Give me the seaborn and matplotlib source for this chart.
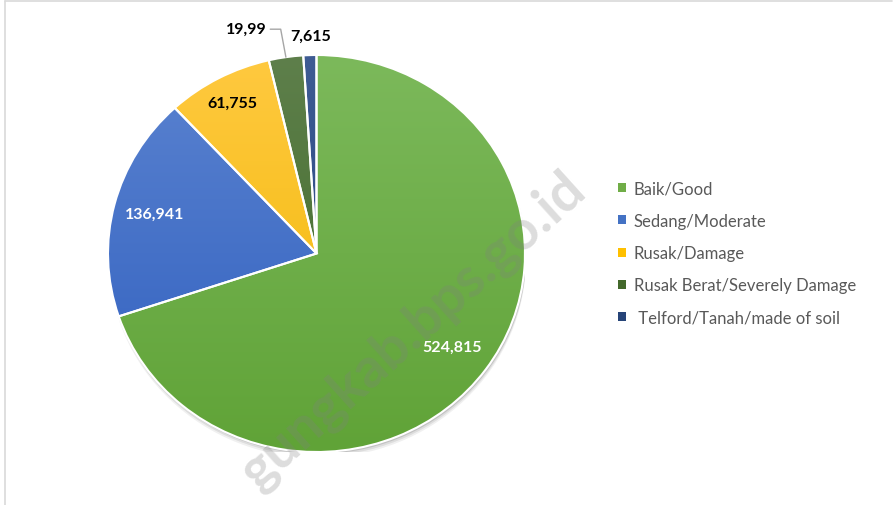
import matplotlib.pyplot as plt
import matplotlib.patches as mpatches
import numpy as np
import seaborn as sns
from matplotlib.colors import to_rgb

categories = ["Baik/Good", "Sedang/Moderate", "Rusak/Damage",
              "Rusak Berat/Severely Damage", " Telford/Tanah/made of soil"]
values = [524815, 136941, 61755, 19990, 7615]
value_labels = ["524,815", "136,941", "61,755", "19,99", "7,615"]

# light (top) and dark (bottom) shade of each slice, Excel-like gradient
top_colors = ["#7cb95b", "#5b83d0", "#ffc940", "#5e7f4b", "#3f5c94"]
bottom_colors = ["#60a337", "#2f5fbf", "#f0b700", "#3d6a26", "#203f7b"]
legend_colors = sns.color_palette(["#70ad47", "#4472c4", "#ffc000", "#43682b", "#264478"])

sns.set_theme(style="white")
plt.rcParams["font.family"] = ["Lato", "DejaVu Sans"]

fig = plt.figure(figsize=(8.94, 5.06), dpi=100)
fig.patch.set_facecolor("white")

# chart area border
W, H = 894, 506
fig.add_artist(plt.Line2D([5 / W, 5 / W], [0, 1 - 2 / H], color="#d9d9d9", lw=1.2))
fig.add_artist(plt.Line2D([5 / W, 892 / W], [1 - 2 / H, 1 - 2 / H], color="#d9d9d9", lw=1.2))

ax = fig.add_axes([108 / W, 1 - 453 / H, 417 / W, 397 / H])

# soft shadow under the pie
for dy, a in [(-0.03, 0.06), (-0.02, 0.08), (-0.01, 0.12)]:
    ax.add_patch(mpatches.Ellipse((0.005, dy), 2.0, 2.0, color="black", alpha=a, lw=0, zorder=0))

wedges, _ = ax.pie(values, startangle=90, counterclock=False, radius=1,
                   wedgeprops=dict(edgecolor="white", linewidth=1.5))
ax.set_aspect("auto")

for w, c0, c1 in zip(wedges, top_colors, bottom_colors):
    w.set_facecolor("none")
    w.set_zorder(3)
    grad = np.linspace(0, 1, 256)[:, None]
    a0, a1 = np.array(to_rgb(c0)), np.array(to_rgb(c1))
    img = (a0[None, None, :] * (1 - grad[..., None]) + a1[None, None, :] * grad[..., None])
    im = ax.imshow(img, extent=(-1, 1, -1, 1), aspect="auto", zorder=2, origin="upper")
    im.set_clip_path(w)

ax.set_xlim(-1, 1)
ax.set_ylim(-1, 1)
ax.axis("off")

# value labels
inside_r = [0.8, 0.8, 0.86]
inside_col = ["white", "white", "black"]
for i, (w, lab) in enumerate(zip(wedges, value_labels)):
    mid = np.deg2rad((w.theta1 + w.theta2) / 2)
    if i < 3:
        ax.text(inside_r[i] * np.cos(mid), inside_r[i] * np.sin(mid), lab,
                ha="center", va="center", color=inside_col[i],
                fontsize=11.5, fontweight="bold", zorder=5)

# small slices: labels outside the pie
w = wedges[3]
mid = np.deg2rad((w.theta1 + w.theta2) / 2)
x0, y0 = np.cos(mid), np.sin(mid)
ax.plot([x0, x0 - 0.025, x0 - 0.075], [y0, 1.13, 1.13], color="#a6a6a6", lw=1,
        clip_on=False, zorder=5)
ax.text(x0 - 0.09, 1.13, value_labels[3], ha="right", va="center",
        fontsize=11.5, fontweight="bold", color="black", clip_on=False)
w = wedges[4]
mid = np.deg2rad((w.theta1 + w.theta2) / 2)
ax.text(np.cos(mid) + 0.005, 1.095, value_labels[4], ha="center", va="center",
        fontsize=11.5, fontweight="bold", color="black", clip_on=False)

handles = [mpatches.Patch(facecolor=c, edgecolor="none") for c in legend_colors]
leg = fig.legend(handles, categories, loc="center left",
                 bbox_to_anchor=(603 / W, 1 - 254 / H), frameon=False,
                 fontsize=12, labelcolor="#595959", handlelength=0.45,
                 handleheight=0.45, handletextpad=0.5, labelspacing=0.98)

# watermark
fig.text(588 / W, 1 - 194 / H, "gungkab.bps.go.id", rotation=42,
         rotation_mode="anchor", ha="right", va="baseline", fontsize=40,
         fontweight="bold", color="gray", alpha=0.27, zorder=10)

fig.savefig("out.png", dpi=100, facecolor="white")
